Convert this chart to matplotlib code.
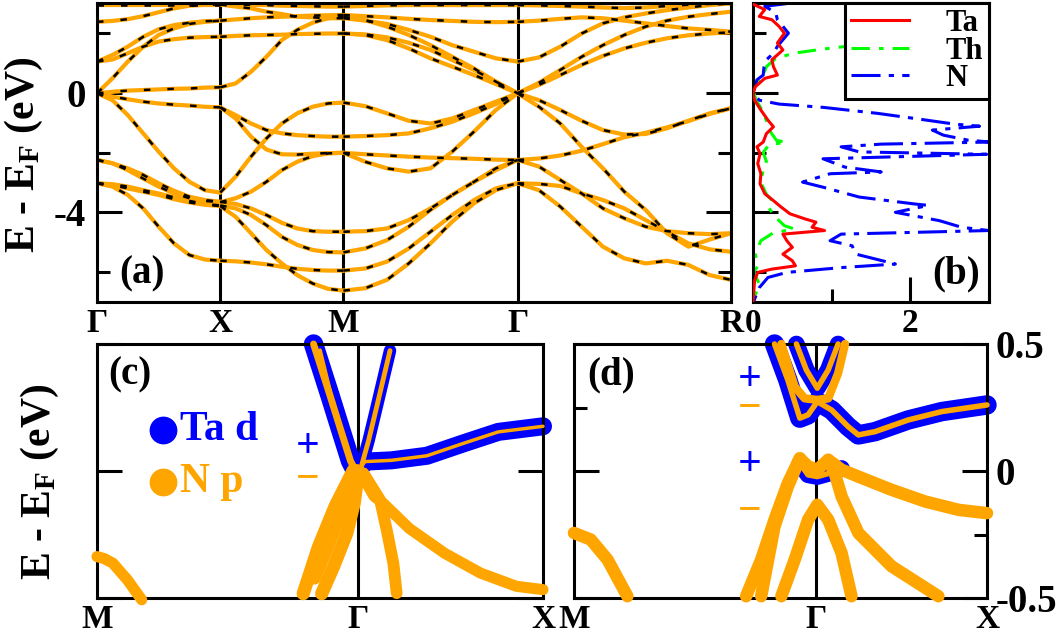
import matplotlib
matplotlib.use('Agg')
import matplotlib.pyplot as plt

plt.rcParams['font.family'] = ['Liberation Serif', 'DejaVu Serif']
plt.rcParams['font.weight'] = 'bold'
plt.rcParams['mathtext.fontset'] = 'custom'
plt.rcParams['mathtext.rm'] = 'Liberation Serif:bold'
plt.rcParams['mathtext.it'] = 'Liberation Serif:bold'
plt.rcParams['mathtext.bf'] = 'Liberation Serif:bold'
plt.rcParams['axes.unicode_minus'] = False

# ---------------- (a) band structure ----------------
ka_ticks = [0, 0.5, 1.0, 1.707, 2.573]
ka_labels = ['Γ', 'X', 'M', 'Γ', 'R']

k_GX = [0, 0.0625, 0.125, 0.1875, 0.25, 0.3125, 0.375, 0.4375, 0.5]
bands_GX = [
    [2.93, 2.93, 2.93, 2.93, 2.93, 2.93, 2.93, 2.93, 2.93],
    [2.37, 2.40, 2.46, 2.56, 2.69, 2.82, 2.91, 2.94, 2.95],
    [1.04, 1.26, 1.54, 1.87, 2.12, 2.26, 2.34, 2.39, 2.41],
    [1.04, 1.11, 1.32, 1.54, 1.71, 1.79, 1.84, 1.86, 1.87],
    [-0.02, 0.48, 1.04, 1.54, 1.93, 2.15, 2.30, 2.37, 2.41],
    [-0.02, 0.03, 0.07, 0.09, 0.11, 0.13, 0.14, 0.17, 0.18],
    [-0.02, -0.13, -0.22, -0.30, -0.36, -0.40, -0.43, -0.47, -0.49],
    [-0.02, -0.25, -0.75, -1.36, -1.97, -2.53, -2.98, -3.26, -3.34],
    [-2.25, -2.36, -2.59, -2.87, -3.14, -3.37, -3.53, -3.62, -3.66],
    [-2.25, -2.36, -2.53, -2.75, -3.03, -3.28, -3.48, -3.59, -3.65],
    [-3.03, -3.06, -3.14, -3.26, -3.37, -3.50, -3.62, -3.72, -3.77],
    [-3.03, -3.09, -3.20, -3.31, -3.42, -3.56, -3.67, -3.75, -3.79],
    [-3.03, -3.14, -3.42, -3.87, -4.48, -5.04, -5.43, -5.58, -5.62],
]

k_XM = [0.5, 0.5625, 0.625, 0.6875, 0.75, 0.8125, 0.875, 0.9375, 1.0]
bands_XM = [
    [0.18, 0.31, 0.70, 1.20, 1.76, 2.10, 2.34, 2.49, 2.54],
    [-0.49, -0.75, -1.03, -1.25, -1.36, -1.42, -1.45, -1.47, -1.47],
    [-0.49, -0.86, -1.47, -1.90, -2.06, -2.07, -2.04, -2.02, -2.01],
    [-3.34, -2.81, -2.14, -1.53, -1.03, -0.69, -0.47, -0.36, -0.33],
    [-3.66, -3.53, -3.31, -2.98, -2.59, -2.31, -2.12, -2.03, -2.01],
    [-3.65, -3.72, -3.87, -4.09, -4.35, -4.54, -4.63, -4.65, -4.65],
    [-3.77, -3.87, -4.09, -4.43, -4.82, -5.09, -5.26, -5.33, -5.34],
    [-3.79, -4.15, -4.70, -5.26, -5.71, -6.10, -6.38, -6.56, -6.62],
    [-5.62, -5.64, -5.68, -5.74, -5.82, -5.89, -5.93, -5.95, -5.95],
    [1.87, 1.90, 1.92, 1.93, 1.94, 1.96, 1.97, 1.98, 1.98],
    [2.41, 2.45, 2.49, 2.52, 2.54, 2.56, 2.58, 2.59, 2.60],
    [2.95, 2.88, 2.82, 2.71, 2.63, 2.54, 2.52, 2.49, 2.49],
    [2.95, 2.95, 2.94, 2.93, 2.91, 2.90, 2.89, 2.88, 2.88],
]

k_MG = [1.0, 1.0884, 1.1768, 1.2651, 1.3535, 1.4419, 1.5303, 1.6186, 1.707]
bands_MG = [
    [2.88, 2.90, 2.92, 2.93, 2.93, 2.93, 2.93, 2.93, 2.93],
    [2.60, 2.56, 2.52, 2.47, 2.43, 2.40, 2.37, 2.36, 2.37],
    [2.49, 2.41, 2.30, 2.10, 1.87, 1.59, 1.37, 1.15, 1.04],
    [1.98, 1.95, 1.85, 1.67, 1.43, 1.09, 0.76, 0.37, -0.02],
    [1.98, 1.93, 1.76, 1.48, 1.15, 0.87, 0.59, 0.29, -0.02],
    [2.54, 2.43, 2.21, 1.93, 1.59, 1.20, 0.81, 0.37, -0.02],
    [-0.33, -0.45, -0.69, -0.94, -1.03, -0.86, -0.58, -0.30, -0.02],
    [-1.47, -1.45, -1.42, -1.36, -1.19, -0.97, -0.69, -0.38, -0.02],
    [-2.01, -2.31, -2.53, -2.64, -2.53, -1.97, -1.30, -0.58, -0.02],
    [-2.01, -2.06, -2.10, -2.14, -2.17, -2.19, -2.21, -2.24, -2.25],
    [-4.65, -4.63, -4.54, -4.26, -3.87, -3.42, -2.98, -2.53, -2.25],
    [-5.34, -5.21, -4.93, -4.48, -3.92, -3.42, -2.98, -2.59, -2.25],
    [-5.95, -5.88, -5.65, -5.21, -4.65, -4.09, -3.59, -3.20, -3.03],
    [-6.62, -6.54, -6.26, -5.71, -5.04, -4.31, -3.70, -3.26, -3.03],
]

k_GR = [1.707, 1.7936, 1.8802, 1.9668, 2.0534, 2.14, 2.2266, 2.3132, 2.3998, 2.4864, 2.573]
bands_GR = [
    [2.93, 2.92, 2.90, 2.88, 2.85, 2.83, 2.85, 2.90, 2.94, 2.97, 2.99],
    [2.37, 2.41, 2.47, 2.52, 2.49, 2.41, 2.32, 2.23, 2.15, 2.10, 2.04],
    [1.04, 1.18, 1.54, 1.98, 2.32, 2.52, 2.65, 2.76, 2.85, 2.93, 2.99],
    [-0.02, 0.33, 0.76, 1.20, 1.59, 1.93, 2.21, 2.41, 2.54, 2.63, 2.71],
    [-0.02, 0.26, 0.59, 0.93, 1.23, 1.48, 1.67, 1.82, 1.92, 1.98, 2.02],
    [-0.02, -0.25, -0.58, -0.94, -1.25, -1.40, -1.38, -1.19, -0.94, -0.69, -0.52],
    [-2.25, -2.20, -2.10, -1.94, -1.72, -1.49, -1.34, -1.16, -0.95, -0.71, -0.52],
    [-0.02, -0.47, -1.03, -1.81, -2.53, -3.31, -3.92, -4.70, -5.15, -4.91, -4.70],
    [-2.25, -2.47, -2.92, -3.37, -3.87, -4.20, -4.48, -4.63, -4.70, -4.73, -4.70],
    [-3.03, -3.05, -3.12, -3.37, -3.59, -3.87, -4.26, -4.65, -5.04, -5.24, -5.32],
    [-3.03, -3.26, -3.81, -4.48, -5.15, -5.54, -5.71, -5.62, -5.76, -6.10, -6.26],
]

# ---------------- (b) PDOS ----------------
Ta_E = [2.95, 2.78, 2.55, 2.44, 2.22, 1.99, 1.66, 1.43, 1.10, 0.87, 0.59, 0.48, 0.20, -0.02,
        -0.25, -0.58, -0.92, -1.14, -1.37, -1.65, -1.81, -2.04, -2.37, -2.71, -3.05, -3.38,
        -3.61, -3.83, -4.05, -4.22, -4.33, -4.50, -4.61, -4.73, -4.95, -5.17, -5.40, -5.62,
        -5.79, -5.90, -6.01, -6.29, -6.63, -7.0]
Ta_D = [0.01, 0.15, 0.08, 0.24, 0.33, 0.40, 0.31, 0.38, 0.24, 0.26, 0.31, 0.15, 0.03, 0.0,
        0.02, 0.10, 0.19, 0.26, 0.17, 0.13, 0.05, 0.09, 0.06, 0.10, 0.09, 0.15, 0.26, 0.36,
        0.47, 0.66, 0.80, 0.75, 0.91, 0.38, 0.43, 0.50, 0.38, 0.50, 0.54, 0.24, 0.06, 0.02,
        0.01, 0.0]
Th_E = [2.9, 2.2, 1.7, 1.55, 1.46, 1.32, 1.15, 0.87, 0.54, 0.26, 0.0, -0.25, -0.6, -1.0,
        -1.3, -1.6, -1.65, -1.75, -2.0, -2.3, -2.7, -3.0, -3.4, -3.6, -3.85, -4.2, -4.45,
        -4.55, -4.7, -4.95, -5.4, -5.8, -6.0, -6.4, -6.9]
Th_D = [3.3, 3.0, 1.8, 1.19, 0.89, 0.52, 0.29, 0.17, 0.125, 0.06, 0.01, 0.04, 0.12, 0.18,
        0.22, 0.30, 0.42, 0.20, 0.13, 0.17, 0.12, 0.10, 0.17, 0.24, 0.20, 0.30, 0.40, 0.52,
        0.25, 0.10, 0.03, 0.06, 0.01, 0.08, 0.01]
N_E = [2.98, 2.89, 2.67, 2.44, 2.22, 1.99, 1.77, 1.55, 1.32, 1.10, 0.87, 0.59, 0.43, 0.18,
       -0.02, -0.25, -0.38, -0.49, -0.69, -0.86, -1.05, -1.12, -1.25, -1.42, -1.59, -1.65,
       -1.72, -1.81, -1.98, -2.06, -2.21, -2.49, -2.65, -2.71, -2.99, -3.16, -3.49, -3.72,
       -3.77, -4.00, -4.28, -4.50, -4.61, -4.73, -4.95, -5.12, -5.40, -5.73, -5.85, -6.01,
       -6.18, -6.52, -6.97]
N_D = [0.43, 0.15, 0.29, 0.31, 0.38, 0.45, 0.38, 0.31, 0.26, 0.17, 0.14, 0.13, 0.05, 0.02,
       0.0, 0.08, 0.33, 0.89, 1.58, 2.05, 2.56, 2.88, 2.28, 2.42, 2.74, 3.02, 1.63, 1.12,
       1.35, 2.97, 0.89, 1.17, 1.63, 0.98, 0.63, 0.89, 1.35, 2.05, 2.23, 1.81, 2.37, 2.65,
       3.0, 1.12, 0.98, 1.26, 1.31, 1.81, 1.12, 0.43, 0.19, 0.08, 0.01]
dos_labels = ['Ta', 'Th', 'N']

# ---------------- (c), (d) fat bands ----------------
kc_ticks = [0, 0.707, 1.207]
kc_labels = ['M', 'Γ', 'X']

c_k = {
    'M': [0, 0.02, 0.043, 0.082, 0.121],
    'cond': [0.712, 0.725, 0.797, 0.893, 0.990, 1.086, 1.207],
    'L1': [0.700, 0.686, 0.660, 0.630, 0.586],
    'L2': [0.700, 0.680, 0.660, 0.632, 0.604],
    'R1': [0.712, 0.735, 0.757, 0.793],
    'D1': [0.694, 0.644, 0.599, 0.558],
    'D2': [0.707, 0.696, 0.676, 0.640, 0.608],
    'D3': [0.703, 0.662, 0.622, 0.588],
    'D4': [0.721, 0.766, 0.784, 0.802, 0.811],
    'D5': [0.712, 0.750, 0.774, 0.845, 0.941, 1.038, 1.135, 1.207],
}
c_E = {
    'M': [-0.337, -0.345, -0.363, -0.428, -0.507],
    'cond': [0.010, 0.037, 0.042, 0.060, 0.108, 0.154, 0.176],
    'L1': [0.0, 0.04, 0.16, 0.30, 0.5],
    'L2': [0.0, 0.06, 0.16, 0.31, 0.476],
    'R1': [0.0, 0.120, 0.253, 0.474],
    'D1': [0.004, -0.140, -0.300, -0.483],
    'D2': [-0.009, -0.127, -0.245, -0.377, -0.483],
    'D3': [0.0, -0.154, -0.300, -0.420],
    'D4': [-0.009, -0.114, -0.232, -0.363, -0.481],
    'D5': [-0.003, -0.100, -0.126, -0.226, -0.324, -0.402, -0.454, -0.467],
}
d_k = {
    'M': [0, 0.049, 0.098, 0.156],
    'U1': [0.650, 0.679, 0.711, 0.743, 0.772],
    'U2': [0.586, 0.625, 0.660, 0.684, 0.711, 0.753, 0.801, 0.831, 0.880, 0.977, 1.075, 1.207],
    'U3': [0.606, 0.645, 0.674, 0.711, 0.743, 0.772, 0.792],
    'V1': [0.547, 0.586, 0.625, 0.660, 0.684, 0.711, 0.743, 0.782, 0.831, 0.928, 1.026, 1.124, 1.207],
    'V2': [0.660, 0.684, 0.711, 0.743, 0.782],
    'V3': [0.743, 0.762, 0.782, 0.831, 0.928, 1.065],
    'V4': [0.660, 0.625, 0.586, 0.547, 0.503],
    'V5': [0.606, 0.645, 0.684, 0.711, 0.743, 0.782, 0.811],
}
d_E = {
    'M': [-0.244, -0.270, -0.349, -0.493],
    'U1': [0.5, 0.398, 0.326, 0.398, 0.5],
    'U2': [0.5, 0.358, 0.208, 0.221, 0.273, 0.240, 0.175, 0.142, 0.155, 0.201, 0.234, 0.260],
    'U3': [0.5, 0.332, 0.286, 0.280, 0.286, 0.385, 0.5],
    'V1': [-0.493, -0.218, -0.061, 0.050, 0.018, 0.005, 0.044, 0.005, -0.022, -0.074, -0.120, -0.153, -0.166],
    'V2': [0.03, -0.015, -0.022, -0.01, 0.01],
    'V3': [0.044, -0.009, -0.100, -0.244, -0.375, -0.493],
    'V4': [0.05, -0.048, -0.192, -0.349, -0.493],
    'V5': [-0.493, -0.349, -0.192, -0.133, -0.192, -0.323, -0.493],
}

# styles (widths in points) for fat bands
c_blue_w = {'cond': 13, 'L1': 14, 'R1': 9}
c_orange_w = {'M': 8, 'cond': 2.5, 'L1': 5, 'L2': 2.5, 'R1': 3.5,
              'D1': 9.5, 'D2': 9.5, 'D3': 10, 'D4': 8.5, 'D5': 8}
d_blue_w = {'U1': 12, 'U2': 14, 'V2': 12}
d_orange_w = {'M': 9, 'U1': 4, 'U2': 4, 'U3': 6, 'V1': 9, 'V2': 4, 'V3': 9, 'V4': 9, 'V5': 9}

ORANGE = '#FFA500'
BLUE = '#0000FF'
W, H = 1061, 638


def rect(l, t, r, b):
    return [l / W, 1 - b / H, (r - l) / W, (b - t) / H]


fig = plt.figure(figsize=(W / 100, H / 100), dpi=100)
ax_a = fig.add_axes(rect(97, 3, 731, 302))
ax_b = fig.add_axes(rect(753, 3, 989, 302))
ax_c = fig.add_axes(rect(97, 344, 543, 598))
ax_d = fig.add_axes(rect(574, 344, 987, 598))

for ax in (ax_a, ax_b, ax_c, ax_d):
    for s in ax.spines.values():
        s.set_linewidth(2.2)

# ---- (a)
for k, bands in ((k_GX, bands_GX), (k_XM, bands_XM), (k_MG, bands_MG), (k_GR, bands_GR)):
    for E in bands:
        ax_a.plot(k, E, color=ORANGE, lw=3.0, solid_capstyle='round', zorder=2)
        ax_a.plot(k, E, color='black', lw=1.8, ls=(0, (2.6, 6.8)), zorder=3)
for kv in ka_ticks[1:-1]:
    ax_a.axvline(kv, color='black', lw=2.2, zorder=1)
ax_a.set_xlim(0, 2.573)
ax_a.set_ylim(-7, 3)
ax_a.set_xticks(ka_ticks)
ax_a.set_xticklabels(ka_labels)
ax_a.tick_params(axis='x', length=0, labelsize=24, pad=4)
ax_a.set_yticks([-4, 0])
ax_a.set_yticklabels(['-4', '0'])
ax_a.set_yticks([-6, -2, 2], minor=True)
ax_a.tick_params(axis='y', which='major', direction='in', length=18, width=2.2,
                 left=True, right=True, labelsize=28, pad=8)
ax_a.tick_params(axis='y', which='minor', direction='in', length=9.5, width=2.2,
                 left=True, right=True)
ax_a.text(0.09, -6.05, '(a)', fontsize=28, fontweight='bold', ha='left', va='center')
fig.text(24 / W, 1 - 155 / H, 'E - E$_{\\mathregular{F}}$ (eV)', rotation=90,
         fontsize=30, fontweight='bold', ha='center', va='center')

# ---- (b)
ax_b.plot(Ta_D, Ta_E, color='#FF0000', lw=2.2, label=dos_labels[0], zorder=3)
ax_b.plot(Th_D, Th_E, color='#00FF00', lw=2.2, ls=(0, (6, 3, 1.5, 3)), label=dos_labels[1], zorder=2)
ax_b.plot(N_D, N_E, color=BLUE, lw=2.2, ls=(0, (9.5, 2.7, 1.7, 2.7)), label=dos_labels[2], zorder=2)
ax_b.set_xlim(0, 3)
ax_b.set_ylim(-7, 3)
ax_b.set_xticks([0, 2])
ax_b.set_xticklabels(['0', '2'])
ax_b.set_xticks([1, 3], minor=True)
ax_b.tick_params(axis='x', which='major', direction='in', length=18, width=2.2, labelsize=24, pad=4)
ax_b.tick_params(axis='x', which='minor', direction='in', length=9.5, width=2.2)
ax_b.set_yticks([-4, 0])
ax_b.set_yticks([-6, -2, 2], minor=True)
ax_b.tick_params(axis='y', which='major', direction='in', length=18, width=2.2, labelleft=False)
ax_b.tick_params(axis='y', which='minor', direction='in', length=9.5, width=2.2)
leg = ax_b.legend(loc='upper right', bbox_to_anchor=(1.0, 1.0), borderaxespad=0,
                  fontsize=22, frameon=True, fancybox=False, framealpha=1,
                  edgecolor='black', handlelength=1.9, labelspacing=-0.05,
                  borderpad=0.2, handletextpad=1.2)
leg.get_frame().set_linewidth(2.2)
leg.set_zorder(10)
ax_b.text(2.28, -6.05, '(b)', fontsize=28, fontweight='bold', ha='left', va='center')


def fat_axes(ax, kd, Ed, bw, ow):
    for name, w in bw.items():
        ax.plot(kd[name], Ed[name], color=BLUE, lw=w, solid_capstyle='round',
                solid_joinstyle='round', clip_on=False, zorder=2)
    for name, w in ow.items():
        ax.plot(kd[name], Ed[name], color=ORANGE, lw=w, solid_capstyle='round',
                solid_joinstyle='round', clip_on=False, zorder=3)
    ax.axvline(kc_ticks[1], color='black', lw=2.2, zorder=1)
    ax.set_xlim(0, 1.207)
    ax.set_ylim(-0.5, 0.5)
    ax.set_xticks(kc_ticks)
    ax.set_xticklabels(kc_labels)
    ax.tick_params(axis='x', length=0, labelsize=24, pad=4)


# ---- (c)
fat_axes(ax_c, c_k, c_E, c_blue_w, c_orange_w)
ax_c.set_yticks([-0.5, 0, 0.5])
ax_c.tick_params(axis='y', which='major', direction='in', length=18, width=2.2,
                 left=True, right=True, labelleft=False)
ax_c.text(0.03, 0.38, '(c)', fontsize=28, fontweight='bold', ha='left', va='center')
ax_c.plot([0.179], [0.160], 'o', color=BLUE, ms=19, zorder=4)
ax_c.plot([0.179], [-0.042], 'o', color=ORANGE, ms=19, zorder=4)
ax_c.text(0.225, 0.160, 'Ta d', color=BLUE, fontsize=30, fontweight='bold', va='center')
ax_c.text(0.225, -0.042, 'N p', color=ORANGE, fontsize=30, fontweight='bold', va='center')
ax_c.text(0.570, 0.095, '+', color=BLUE, fontsize=30, fontweight='bold', ha='center', va='center')
ax_c.text(0.570, -0.030, '−', color=ORANGE, fontsize=30, fontweight='bold', ha='center', va='center')
fig.text(40 / W, 1 - 482 / H, 'E - E$_{\\mathregular{F}}$ (eV)', rotation=90,
         fontsize=30, fontweight='bold', ha='center', va='center')

# ---- (d)
fat_axes(ax_d, d_k, d_E, d_blue_w, d_orange_w)
ax_d.set_yticks([-0.5, 0, 0.5])
ax_d.set_yticklabels(['-0.5', '0', '0.5'])
ax_d.set_yticks([-0.25, 0.25], minor=True)
ax_d.tick_params(axis='y', which='major', direction='in', length=18, width=2.2,
                 left=True, right=True, labelleft=False, labelright=True, labelsize=28, pad=6)
ax_d.tick_params(axis='y', which='minor', direction='in', length=9.5, width=2.2,
                 left=True, right=True)
ax_d.text(0.04, 0.38, '(d)', fontsize=28, fontweight='bold', ha='left', va='center')
ax_d.text(0.513, 0.358, '+', color=BLUE, fontsize=30, fontweight='bold', ha='center', va='center')
ax_d.text(0.513, 0.247, '−', color=ORANGE, fontsize=30, fontweight='bold', ha='center', va='center')
ax_d.text(0.513, 0.024, '+', color=BLUE, fontsize=30, fontweight='bold', ha='center', va='center')
ax_d.text(0.513, -0.157, '−', color=ORANGE, fontsize=30, fontweight='bold', ha='center', va='center')

fig.savefig('out.png', dpi=100)
